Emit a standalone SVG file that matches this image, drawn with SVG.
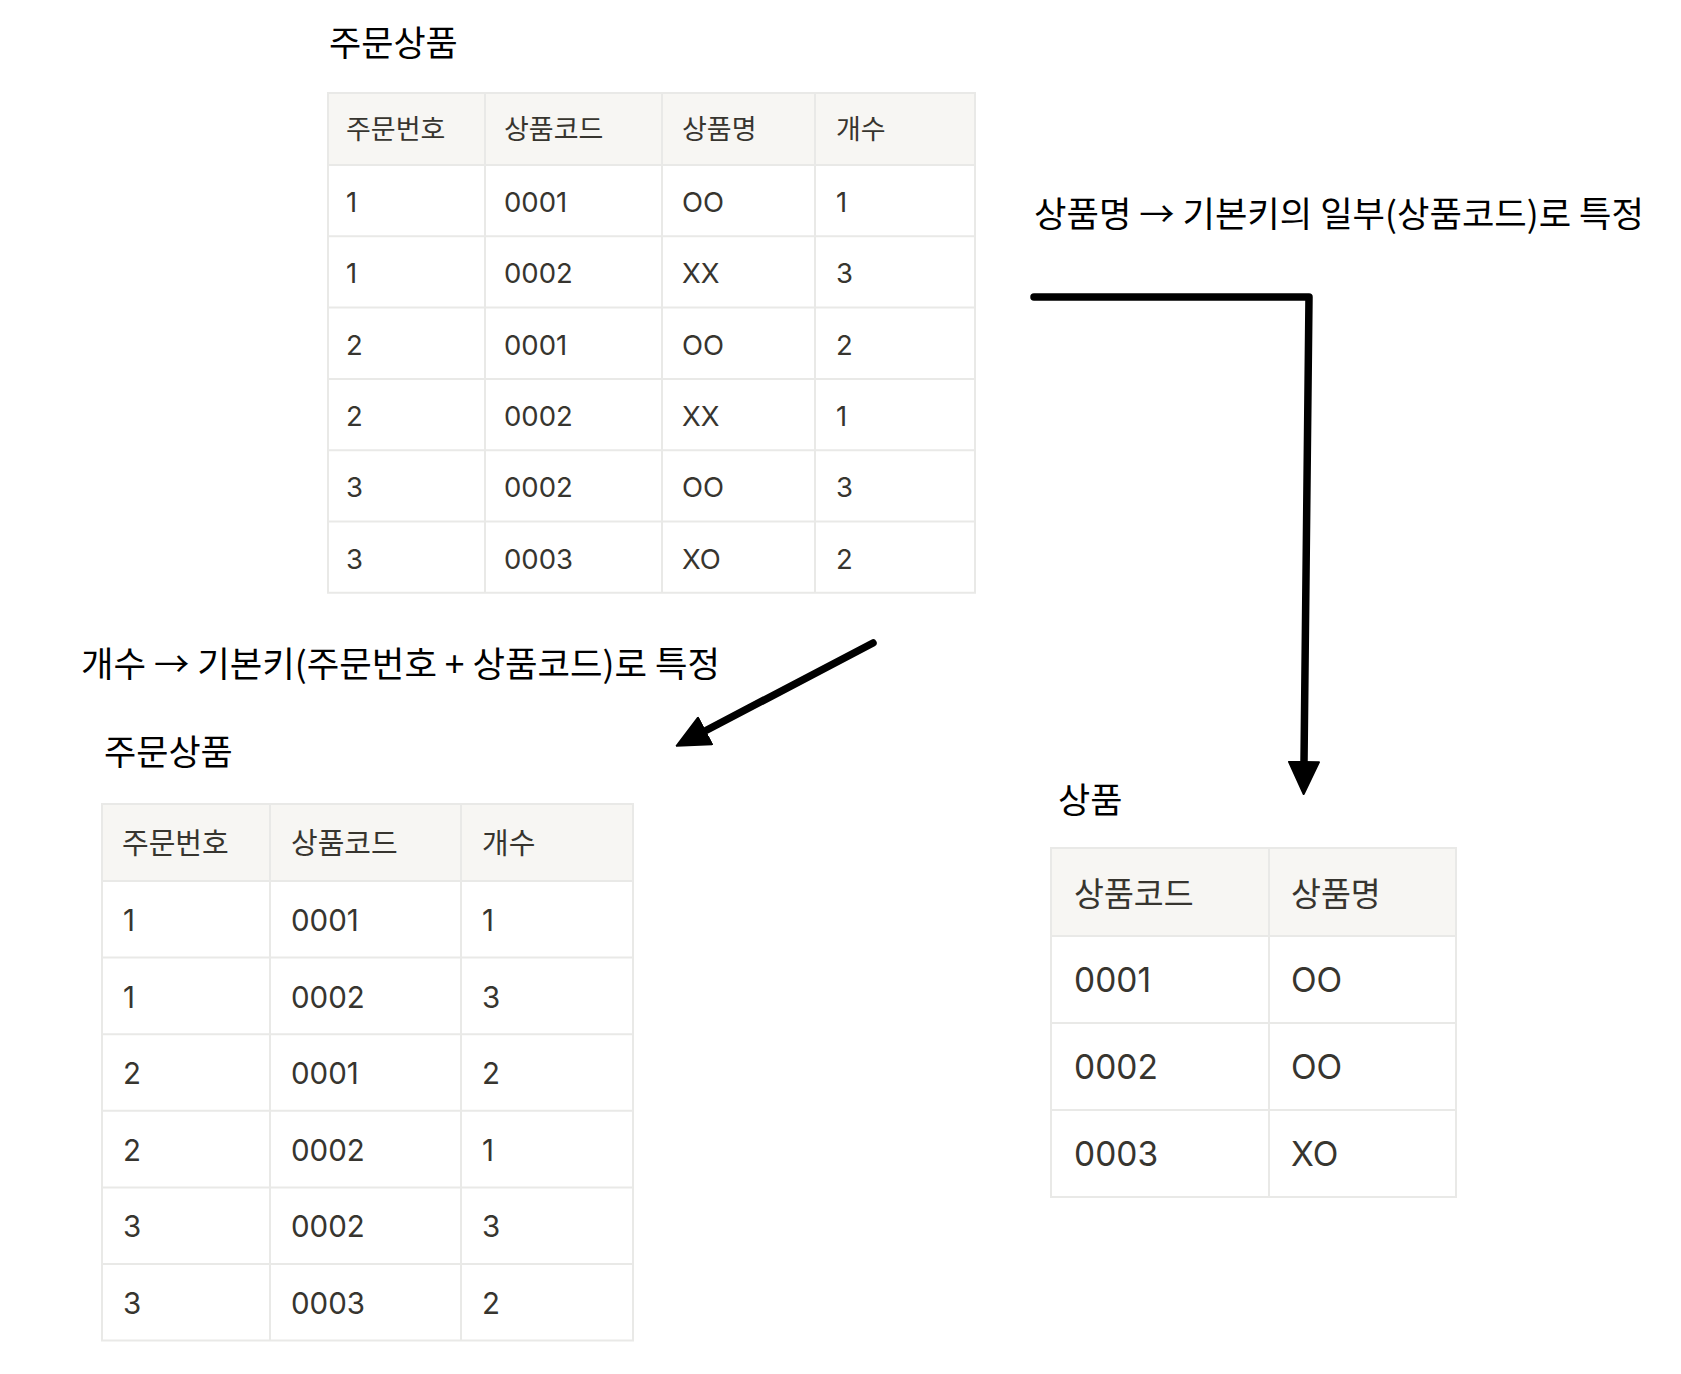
<svg xmlns="http://www.w3.org/2000/svg" width="1681" height="1374" viewBox="0 0 1681 1374">
<style>
.bg{fill:#ffffff}
.hdr{fill:#f7f6f3}
.cell{fill:#ffffff}
.grid{stroke:#e9e9e7;stroke-width:2;fill:none}
.t{fill:#37352f;font-family:"Inter","Noto Sans CJK KR",sans-serif}
.k{fill:#37352f;font-family:"Noto Sans CJK KR",sans-serif}
.title{fill:#000000;font-family:"Noto Sans CJK KR",sans-serif;font-size:35px}
.label{fill:#000000;font-family:"Noto Sans CJK KR",sans-serif;font-size:35px}
.s1k{font-size:27px}.s1d{font-size:27.5px}
.s3k{font-size:29px}.s3d{font-size:29.5px}
.s4k{font-size:32.5px}.s4d{font-size:33.5px}
.conn{stroke:#000000;stroke-width:7.5;fill:none;stroke-linecap:round;stroke-linejoin:round}
</style>
<defs>
<marker id="ah" viewBox="0 0 34 32" refX="1" refY="16" markerWidth="34" markerHeight="32" markerUnits="userSpaceOnUse" orient="auto">
<path d="M1,1 L33,16 L1,31 Z" fill="#000000" stroke="#000000" stroke-width="2" stroke-linejoin="round"/>
</marker>
</defs>
<rect class="bg" x="0" y="0" width="1681" height="1374"/>

<g id="table-order-items-1">
<text class="title" x="329" y="56">주문상품</text>
<rect class="hdr" x="328" y="93" width="647" height="72"/>
<rect class="cell" x="328" y="165" width="647" height="427.8"/>
<path class="grid" d="M328,93 H975 V592.8 H328 Z M328,165 H975 M328,236.3 H975 M328,307.6 H975 M328,378.9 H975 M328,450.2 H975 M328,521.5 H975 M485,93 V592.8 M662,93 V592.8 M815,93 V592.8"/>
<g class="k s1k">
<text x="346" y="139">주문번호</text><text x="504" y="139">상품코드</text><text x="682" y="139">상품명</text><text x="836" y="139">개수</text>
</g>
<g class="t s1d">
<text x="346" y="212">1</text><text x="504" y="212">0001</text><text x="682" y="212">OO</text><text x="836" y="212">1</text>
<text x="346" y="283.3">1</text><text x="504" y="283.3">0002</text><text x="682" y="283.3">XX</text><text x="836" y="283.3">3</text>
<text x="346" y="354.6">2</text><text x="504" y="354.6">0001</text><text x="682" y="354.6">OO</text><text x="836" y="354.6">2</text>
<text x="346" y="425.9">2</text><text x="504" y="425.9">0002</text><text x="682" y="425.9">XX</text><text x="836" y="425.9">1</text>
<text x="346" y="497.2">3</text><text x="504" y="497.2">0002</text><text x="682" y="497.2">OO</text><text x="836" y="497.2">3</text>
<text x="346" y="568.5">3</text><text x="504" y="568.5">0003</text><text x="682" y="568.5">XO</text><text x="836" y="568.5">2</text>
</g>
</g>

<g id="table-order-items-2">
<text class="title" x="104" y="765">주문상품</text>
<rect class="hdr" x="102" y="804" width="531" height="77"/>
<rect class="cell" x="102" y="881" width="531" height="459.6"/>
<path class="grid" d="M102,804 H633 V1340.6 H102 Z M102,881 H633 M102,957.6 H633 M102,1034.2 H633 M102,1110.8 H633 M102,1187.4 H633 M102,1264 H633 M270,804 V1340.6 M461,804 V1340.6"/>
<g class="k s3k">
<text x="122" y="854">주문번호</text><text x="291" y="854">상품코드</text><text x="482" y="854">개수</text>
</g>
<g class="t s3d">
<text x="123" y="931">1</text><text x="291" y="931">0001</text><text x="482" y="931">1</text>
<text x="123" y="1007.6">1</text><text x="291" y="1007.6">0002</text><text x="482" y="1007.6">3</text>
<text x="123" y="1084.2">2</text><text x="291" y="1084.2">0001</text><text x="482" y="1084.2">2</text>
<text x="123" y="1160.8">2</text><text x="291" y="1160.8">0002</text><text x="482" y="1160.8">1</text>
<text x="123" y="1237.4">3</text><text x="291" y="1237.4">0002</text><text x="482" y="1237.4">3</text>
<text x="123" y="1314">3</text><text x="291" y="1314">0003</text><text x="482" y="1314">2</text>
</g>
</g>

<g id="table-products">
<text class="title" x="1058" y="813">상품</text>
<rect class="hdr" x="1051" y="848" width="405" height="88"/>
<rect class="cell" x="1051" y="936" width="405" height="261"/>
<path class="grid" d="M1051,848 H1456 V1197 H1051 Z M1051,936 H1456 M1051,1023 H1456 M1051,1110 H1456 M1269,848 V1197"/>
<g class="k s4k">
<text x="1074" y="906">상품코드</text><text x="1291" y="906">상품명</text>
</g>
<g class="t s4d">
<text x="1074" y="992">0001</text><text x="1291" y="992">OO</text>
<text x="1074" y="1079">0002</text><text x="1291" y="1079">OO</text>
<text x="1074" y="1166">0003</text><text x="1291" y="1166">XO</text>
</g>
</g>

<g id="label-product-name">
<text class="label" x="1034" y="227" textLength="610" lengthAdjust="spacingAndGlyphs">상품명 → 기본키의 일부(상품코드)로 특정</text>
</g>
<g id="label-quantity">
<text class="label" x="81" y="677" textLength="639" lengthAdjust="spacingAndGlyphs">개수 → 기본키(주문번호 + 상품코드)로 특정</text>
</g>

<g id="connectors">
<path class="conn" d="M1034,297 L1309,297 L1304,762" marker-end="url(#ah)"/>
<path class="conn" d="M873,643 L705,731" marker-end="url(#ah)"/>
</g>
</svg>
